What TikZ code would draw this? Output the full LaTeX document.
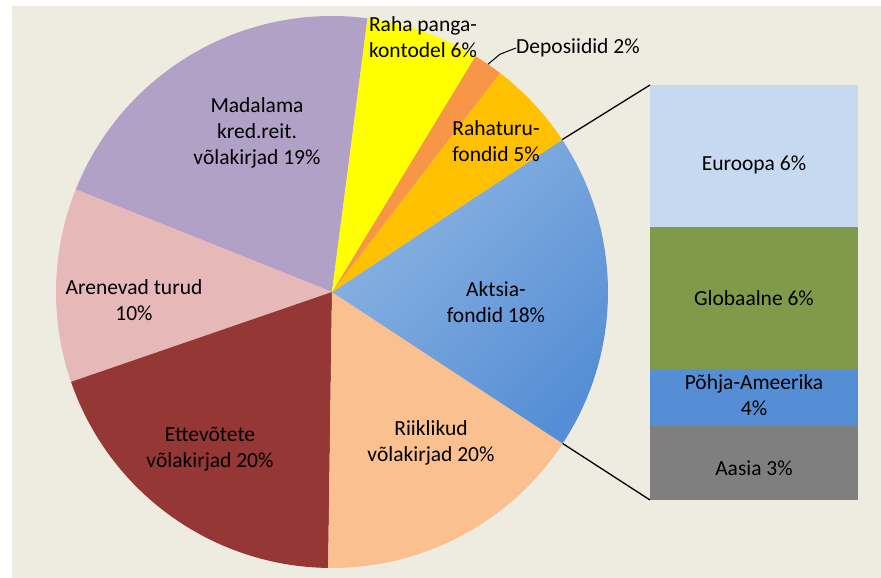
\documentclass[tikz,border=0pt]{standalone}
\usepackage{fontspec}
\setmainfont{Carlito}
\usetikzlibrary{calc}
\definecolor{bgbeige}{HTML}{EEECE1}
\definecolor{madalama}{HTML}{B2A1C7}
\definecolor{raha}{HTML}{FFFF00}
\definecolor{deposiit}{HTML}{F79646}
\definecolor{rahaturu}{HTML}{FFC000}
\definecolor{aktsiaL}{HTML}{8DB4E2}
\definecolor{aktsia}{HTML}{558ED5}
\definecolor{riiklik}{HTML}{FAC090}
\definecolor{ettevote}{HTML}{953735}
\definecolor{arenev}{HTML}{E6B9B8}
\definecolor{euroopa}{HTML}{C6D9F1}
\definecolor{globaal}{HTML}{7F9A48}
\definecolor{aasia}{HTML}{7F7F7F}

\begin{document}
\begin{tikzpicture}[x=1pt,y=1pt,
	lbl/.style={align=center,font=\fontsize{21.5}{26}\selectfont,inner sep=0pt},
	link/.style={draw=black,line width=1.3pt},
	leader/.style={draw=black,line width=1pt}]
	\useasboundingbox (0,0) rectangle (881,578);
	\fill[white] (0,0) rectangle (881,578);
	\fill[bgbeige] (12,0) rectangle (881,572);
	% Pie
	\coordinate (c) at (332,286);
	\fill[madalama] (c) -- ++(82.6:276) arc[start angle=82.6, end angle=158.2, radius=276] -- cycle;
	\fill[arenev] (c) -- ++(158.2:276) arc[start angle=158.2, end angle=199, radius=276] -- cycle;
	\fill[ettevote] (c) -- ++(199:276) arc[start angle=199, end angle=269.2, radius=276] -- cycle;
	\fill[riiklik] (c) -- ++(-90.8:276) arc[start angle=-90.8, end angle=-33.3, radius=276] -- cycle;
	\shade[left color=aktsiaL, middle color=aktsia!85!aktsiaL, right color=aktsia, shading angle=45] (c) -- ++(-33.3:276) arc[start angle=-33.3, end angle=33.5, radius=276] -- cycle;
	\fill[rahaturu] (c) -- ++(33.5:276) arc[start angle=33.5, end angle=52.5, radius=276] -- cycle;
	\fill[deposiit] (c) -- ++(52.5:276) arc[start angle=52.5, end angle=58.7, radius=276] -- cycle;
	\fill[raha] (c) -- ++(58.7:276) arc[start angle=58.7, end angle=82.6, radius=276] -- cycle;
	\coordinate (aktsiaTop) at ($(c)+(33.5:276)$);
	\coordinate (aktsiaBot) at ($(c)+(-33.3:276)$);
	\coordinate (deposiitEdge) at ($(c)+(55.6:276)$);
	% Bar
	\fill[euroopa] (650,351) rectangle (858,493);
	\fill[globaal] (650,209) rectangle (858,351);
	\fill[aktsia] (650,152) rectangle (858,209);
	\fill[aasia] (650,78) rectangle (858,152);
	\coordinate (barTop) at (650,493);
	\coordinate (barBot) at (650,78);
	% Nodes
	\node[lbl] (madalamaL) at (257,445) {Madalama\\kred.reit.\\võlakirjad 19\%};
	\node[lbl] (rahaL) at (423,541) {Raha panga-\\kontodel 6\%};
	\node[lbl,anchor=west] (deposiitL) at (516,530) {Deposiidid 2\%};
	\node[lbl] (rahaturuL) at (496,437) {Rahaturu-\\fondid 5\%};
	\node[lbl] (aktsiaL) at (496,276) {Aktsia-\\fondid 18\%};
	\node[lbl] (riiklikL) at (431,135) {Riiklikud\\võlakirjad 20\%};
	\node[lbl] (ettevoteL) at (210,129) {Ettevõtete\\võlakirjad 20\%};
	\node[lbl] (arenevL) at (134,278) {Arenevad turud\\10\%};
	\node[lbl] (euroopaL) at (754,413) {Euroopa 6\%};
	\node[lbl] (globaalL) at (754,280) {Globaalne 6\%};
	\node[lbl] (pohjaL) at (754,182.5) {Põhja-Ameerika\\4\%};
	\node[lbl] (aasiaL) at (754,110) {Aasia 3\%};
	% Edges
	\draw[link] (aktsiaTop) -- (barTop);
	\draw[link] (aktsiaBot) -- (barBot);
	\draw[leader] (deposiitEdge) -- ++(12,10) -- (deposiitL.west);
\end{tikzpicture}
\end{document}
